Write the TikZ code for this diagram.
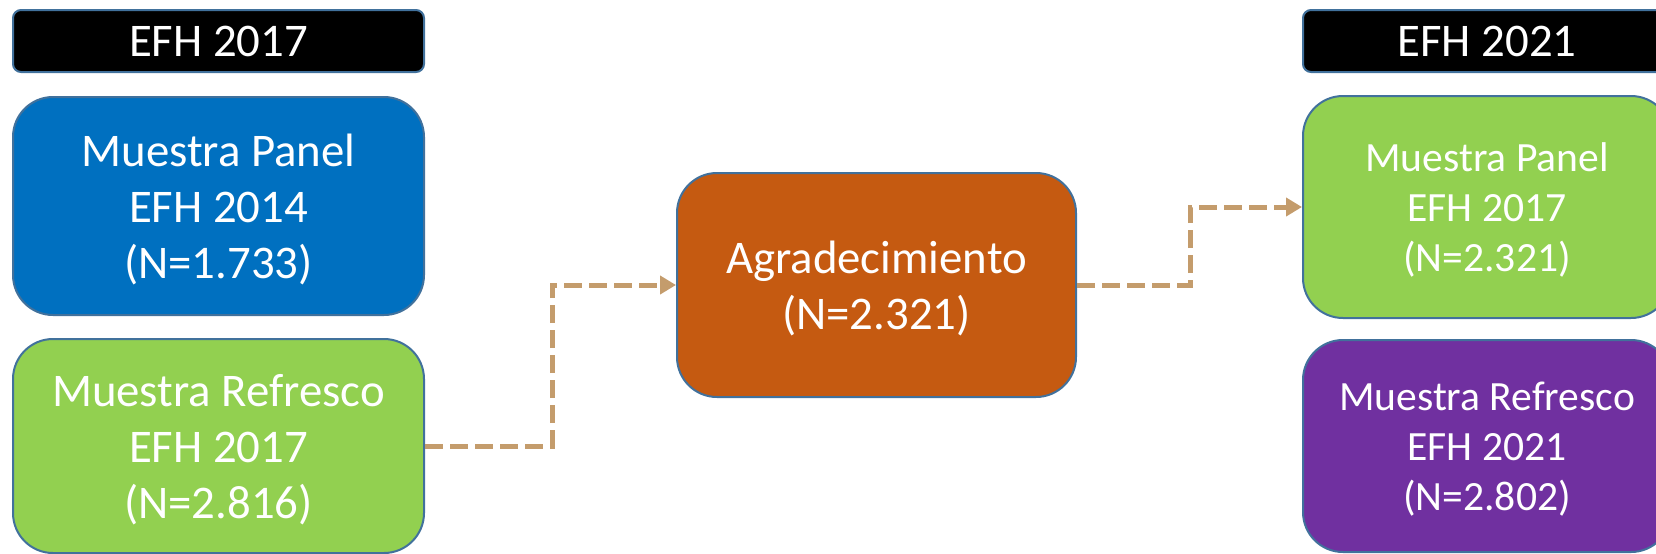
\documentclass[tikz,border=0pt]{standalone}
\usepackage{fontspec}
\setmainfont{Carlito}
\usetikzlibrary{arrows.meta, positioning}

\definecolor{boxedge}{HTML}{41719C}
\definecolor{panelblue}{HTML}{0070C0}
\definecolor{panelgreen}{HTML}{92D050}
\definecolor{agrorange}{HTML}{C55A11}
\definecolor{refrpurple}{HTML}{7030A0}
\definecolor{linktan}{HTML}{C49C6C}

\tikzset{
	sample/.style = {draw = boxedge, line width = 1pt, rounded corners = 20pt, text = white, align = center,
		inner sep = 0pt, text depth = 0pt, font = \fontsize{23.4}{28}\selectfont},
	later/.style = {sample, font = \fontsize{20.8}{25}\selectfont},
	header/.style = {sample, fill = black, rounded corners = 4pt},
	link/.style = {draw = linktan, line width = 2.5pt, dash pattern = on 9pt off 3.5pt, > = {Triangle[length = 8pt, width = 9pt]}, ->}
}

\begin{document}
\begin{tikzpicture}[x = 0.5pt, y = -0.5pt]
	
	\useasboundingbox (0, 0) rectangle (1656, 553);
	\clip (0, 0) rectangle (1656, 553);
	
	% Survey 2017
	
	\node [header, minimum width = 205.5pt, minimum height = 31pt] (hdrA) at (218.5, 41) {EFH 2017};
	\node [sample, fill = panelblue, minimum width = 205.5pt, minimum height = 109pt] (panelA) at (218.5, 206) {Muestra Panel\\EFH 2014\\(N=1.733)};
	\node [sample, fill = panelgreen, minimum width = 205.5pt, minimum height = 107pt] (refrA) at (218.5, 446) {Muestra Refresco\\EFH 2017\\(N=2.816)};
	
	% Thanks letter
	
	\node [sample, fill = agrorange, minimum width = 199.5pt, minimum height = 112pt] (agr) at (876.5, 285) {Agradecimiento\\(N=2.321)};
	
	% Survey 2021
	
	\node [header, minimum width = 184pt, minimum height = 31pt] (hdrB) at (1487, 41) {EFH 2021};
	\node [later, fill = panelgreen, minimum width = 184pt, minimum height = 111pt] (panelB) at (1487, 207) {Muestra Panel\\EFH 2017\\(N=2.321)};
	\node [later, fill = refrpurple, minimum width = 184pt, minimum height = 106pt] (refrB) at (1487, 446) {Muestra Refresco\\EFH 2021\\(N=2.802)};
	
	% The links
	
	\draw [link] (refrA.east) -- ++(127, 0) |- (agr.west);
	\draw [link] (agr.east) -- ++(113, 0) |- (panelB.west);

\end{tikzpicture}
\end{document}
